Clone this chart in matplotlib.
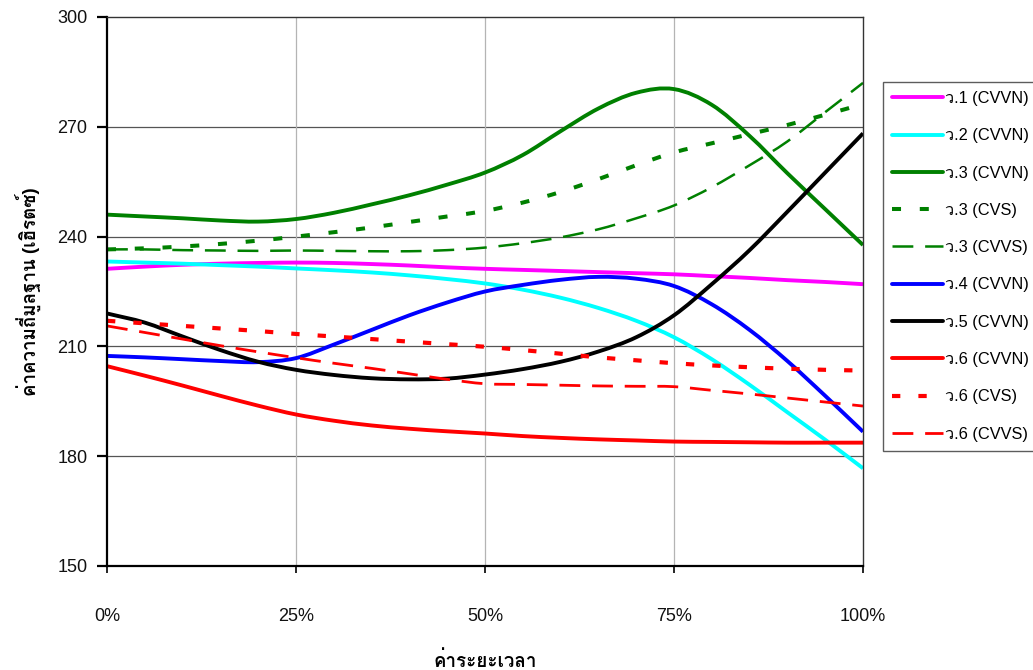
import matplotlib
matplotlib.use("Agg")
import matplotlib.pyplot as plt
from matplotlib import font_manager
from matplotlib.ft2font import FT2Font
from matplotlib.lines import Line2D
from matplotlib.patches import PathPatch
from matplotlib.path import Path
from matplotlib.ticker import FixedLocator, FuncFormatter


def find_thai_font():
    """Return the family name of an installed font with Thai glyphs."""
    regular, bold = [], []
    for entry in font_manager.fontManager.ttflist:
        try:
            cmap = FT2Font(entry.fname).get_charmap()
        except Exception:
            continue
        if 0x0E04 in cmap and 0x0E27 in cmap:
            if str(entry.weight) in ("bold", "700"):
                bold.append(entry.name)
            else:
                regular.append(entry.name)
    names = regular + bold
    return names[0] if names else None


THAI = find_thai_font()
LATIN = "Liberation Sans"
FAMILY = [LATIN] + ([THAI] if THAI else []) + ["DejaVu Sans"]
plt.rcParams["font.family"] = FAMILY
plt.rcParams["lines.scale_dashes"] = False

# Time position along the segment (percent)
x_pct = [0, 5, 10, 15, 20, 25, 30, 35, 40, 45, 50,
         55, 60, 65, 70, 75, 80, 85, 90, 95, 100]

# Fundamental frequency (Hz) per speaker / condition
w1_cvvn = [231.2, 231.8, 232.3, 232.6, 232.8, 232.9, 232.8, 232.5, 232.1, 231.6, 231.2,
           230.9, 230.6, 230.3, 230.0, 229.7, 229.2, 228.7, 228.1, 227.6, 227.0]
w2_cvvn = [233.2, 232.9, 232.6, 232.2, 231.8, 231.3, 230.8, 230.2, 229.4, 228.4, 227.2,
           225.5, 223.3, 220.5, 217.0, 212.5, 206.5, 199.5, 192.0, 184.5, 176.7]
w3_cvvn = [246.0, 245.5, 245.0, 244.4, 244.1, 244.8, 246.5, 248.8, 251.3, 254.2, 257.5,
           262.3, 268.8, 275.0, 279.3, 280.3, 276.0, 267.5, 257.3, 247.5, 237.7]
w3_cvs = [236.5, 236.8, 237.3, 238.0, 238.9, 240.0, 241.2, 242.5, 244.0, 245.5, 247.0,
          249.3, 252.2, 255.7, 259.5, 263.0, 265.5, 268.0, 270.5, 273.3, 276.2]
w3_cvvs = [236.5, 236.5, 236.3, 236.2, 236.1, 236.2, 236.1, 236.0, 236.0, 236.3, 237.0,
           238.2, 239.8, 242.0, 245.0, 248.5, 253.5, 259.5, 266.0, 274.0, 282.0]
w4_cvvn = [207.4, 207.0, 206.5, 206.0, 205.7, 206.8, 210.5, 214.5, 218.5, 222.0, 225.0,
           226.8, 228.2, 229.0, 228.5, 226.5, 221.5, 214.5, 206.0, 196.5, 186.7]
w5_cvvn = [219.0, 216.5, 212.7, 209.0, 205.8, 203.6, 202.2, 201.3, 201.0, 201.2, 202.3,
           203.8, 205.8, 208.6, 212.5, 218.5, 227.0, 236.3, 246.8, 257.5, 268.2]
w6_cvvn = [204.6, 202.0, 199.3, 196.5, 193.8, 191.4, 189.7, 188.4, 187.5, 186.8, 186.2,
           185.5, 185.0, 184.6, 184.3, 184.0, 183.9, 183.8, 183.7, 183.7, 183.7]
w6_cvs = [217.0, 216.3, 215.6, 214.9, 214.2, 213.4, 212.7, 212.0, 211.3, 210.6, 209.9,
          209.0, 208.0, 207.0, 206.2, 205.4, 204.8, 204.3, 203.9, 203.6, 203.4]
w6_cvvs = [215.6, 213.8, 212.0, 210.2, 208.5, 206.9, 205.4, 204.0, 202.5, 201.0, 199.8,
           199.6, 199.4, 199.2, 199.1, 199.0, 198.0, 197.0, 195.9, 194.8, 193.7]

labels = ["ว.1 (CVVN)", "ว.2 (CVVN)", "ว.3 (CVVN)", "ว.3 (CVS)", "ว.3 (CVVS)",
          "ว.4 (CVVN)", "ว.5 (CVVN)", "ว.6 (CVVN)", "ว.6 (CVS)", "ว.6 (CVVS)"]
x_ticks = [0, 25, 50, 75, 100]
y_ticks = [150, 180, 210, 240, 270, 300]

series = [w1_cvvn, w2_cvvn, w3_cvvn, w3_cvs, w3_cvvs,
          w4_cvvn, w5_cvvn, w6_cvvn, w6_cvs, w6_cvvs]

# color, linewidth (pt), dash pattern in points (None = solid)
styles = [
    ("#ff00ff", 2.8, None),
    ("#00ffff", 2.8, None),
    ("#008000", 2.8, None),
    ("#008000", 2.9, (6.5, 13.5)),
    ("#008000", 1.8, (15, 8.5)),
    ("#0000ff", 2.8, None),
    ("#000000", 2.8, None),
    ("#ff0000", 2.8, None),
    ("#ff0000", 3.0, (6, 13)),
    ("#ff0000", 2.0, (15, 8.5)),
]


def smooth_path(xs, ys):
    """Smoothed line through the data points as cubic Bezier segments."""
    n = len(xs)
    tx, ty = [], []
    for i in range(n):
        a = max(i - 1, 0)
        b = min(i + 1, n - 1)
        scale = 0.5 if 0 < i < n - 1 else 1.0
        tx.append((xs[b] - xs[a]) * scale)
        ty.append((ys[b] - ys[a]) * scale)
    verts = [(xs[0], ys[0])]
    codes = [Path.MOVETO]
    for i in range(n - 1):
        verts.append((xs[i] + tx[i] / 3, ys[i] + ty[i] / 3))
        verts.append((xs[i + 1] - tx[i + 1] / 3, ys[i + 1] - ty[i + 1] / 3))
        verts.append((xs[i + 1], ys[i + 1]))
        codes += [Path.CURVE4] * 3
    return Path(verts, codes)


fig = plt.figure(figsize=(10.33, 6.70), dpi=100)
ax = fig.add_axes([107 / 1033, 104 / 670, 756 / 1033, 549 / 670])

handles = []
for vals, lab, (col, lw, dash) in zip(series, labels, styles):
    ls = "-" if dash is None else (0, dash)
    patch = PathPatch(smooth_path(x_pct, vals), fill=False, edgecolor=col,
                      lw=lw, linestyle=ls, capstyle="butt", joinstyle="round",
                      zorder=2)
    ax.add_patch(patch)
    handle = Line2D([], [], color=col, lw=lw, label=lab,
                    solid_capstyle="round", dash_capstyle="butt")
    if dash is not None:
        handle.set_dashes(dash)
    handles.append(handle)

ax.set_xlim(0, 100)
ax.set_ylim(150, 300)
ax.xaxis.set_major_locator(FixedLocator(x_ticks))
ax.yaxis.set_major_locator(FixedLocator(y_ticks))
ax.xaxis.set_major_formatter(FuncFormatter(lambda v, p: f"{v:.0f}%"))

# Horizontal grid darker than the vertical grid
for yv in y_ticks[1:-1]:
    ax.axhline(yv, color="#555555", lw=0.9, zorder=0.5)
for xv in x_ticks[1:-1]:
    ax.axvline(xv, color="#b4b4b4", lw=0.9, zorder=0.5)

for side in ("left", "bottom"):
    ax.spines[side].set_linewidth(1.6)
    ax.spines[side].set_color("black")
for side in ("top", "right"):
    ax.spines[side].set_linewidth(1.0)
    ax.spines[side].set_color("#333333")

ax.tick_params(axis="y", direction="out", length=7, width=1.6, pad=7,
               labelsize=13, colors="black")
ax.tick_params(axis="x", direction="out", length=5, width=1.2, pad=25,
               labelsize=13, colors="black")
for t in ax.get_xticklabels() + ax.get_yticklabels():
    t.set_color("#111111")

ax.set_xlabel("ค่าระยะเวลา", fontsize=13.5, fontweight="bold", labelpad=19)
ax.set_ylabel("ค่าความถี่มูลฐาน (เฮิรตซ์)", fontsize=13.5, fontweight="bold", labelpad=12)

leg = fig.legend(handles=handles, loc="upper left",
                 bbox_to_anchor=(883 / 1033, 1 - 82 / 670),
                 fontsize=11.8, frameon=True, fancybox=False, handlelength=3.1,
                 handletextpad=0.15, labelspacing=1.36, borderpad=0.55,
                 borderaxespad=0)
leg.get_frame().set_edgecolor("#333333")
leg.get_frame().set_linewidth(1.0)

fig.savefig("out.png", dpi=100, facecolor="white")
